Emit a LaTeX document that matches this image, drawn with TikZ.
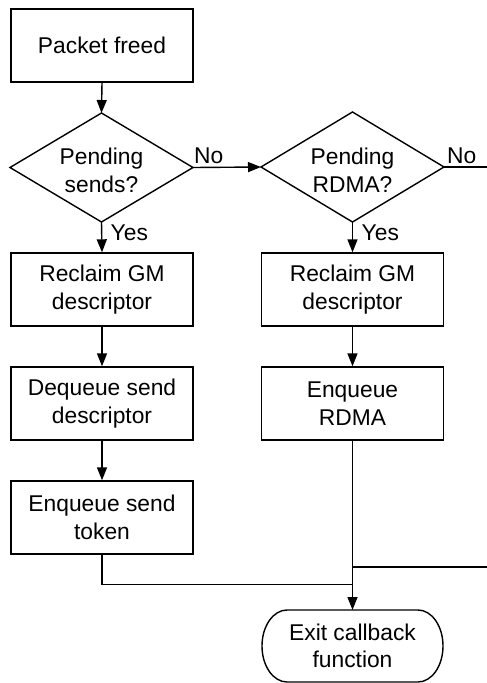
\documentclass[tikz,border=0pt]{standalone}
\usepackage{fontspec}
\setmainfont{Liberation Sans}
\usetikzlibrary{arrows.meta}

\tikzset{
  flowline/.style={line width=1.4pt, draw=black},
  flowarrow/.style={flowline, -{Triangle[length=13pt,width=10pt]}},
  procbox/.style={draw=black, line width=1.4pt, fill=white, rectangle,
    minimum width=182pt, minimum height=73pt, inner sep=0pt, align=center},
  % a decision is a plain frame whose edge midpoints carry the diamond
  decision/.style={rectangle, minimum width=183pt, minimum height=109pt,
    inner sep=0pt, outer sep=0pt, align=center},
  decisiontext/.style={inner sep=0pt, align=center},
  termbox/.style={rectangle, minimum width=181pt, minimum height=72pt,
    inner sep=0pt, outer sep=0pt, align=center},
  branchlabel/.style={inner sep=0pt}
}

\begin{document}
\begin{tikzpicture}[x=1pt,y=-1pt,
  every node/.append style={font=\fontsize{22.8}{27.5}\selectfont}]
  \clip (0,0) rectangle (487,683);
  \useasboundingbox (0,0) rectangle (487,683);

  % left column
  \node[procbox] (start) at (102,45.5) {Packet freed};
  \node[decision] (sends) at (101.5,167.5) {};
  \node[decisiontext] (sendsText) at ([yshift=-3pt]sends.center) {Pending\\sends?};
  \node[procbox] (reclaimA) at (102,289.5) {Reclaim GM\\descriptor};
  \node[procbox] (dequeue) at (102,403.5) {Dequeue send\\descriptor};
  \node[procbox] (token) at (102,517.5) {Enqueue send\\token};

  % right column
  \node[decision, minimum height=110pt] (rdma) at (352.5,167) {};
  \node[decisiontext] (rdmaText) at ([yshift=-3pt]rdma.center) {Pending\\RDMA?};
  \node[procbox] (reclaimB) at (352.5,289.5) {Reclaim GM\\descriptor};
  \node[procbox] (enqrdma) at (352.5,403.5) {Enqueue\\RDMA};

  % diamonds
  \draw[flowline, line join=miter]
    (sends.north) -- (sends.east) -- (sends.south) -- (sends.west) -- cycle;
  \draw[flowline, line join=miter]
    (rdma.north) -- (rdma.east) -- (rdma.south) -- (rdma.west) -- cycle;

  % terminator with flattened rounded ends
  \node[termbox] (exit) at (352.5,646) {Exit callback\\function};
  \draw[flowline]
    ([xshift=25pt]exit.north west) -- ([xshift=-25pt]exit.north east)
    arc[start angle=90, end angle=-90, x radius=25pt, y radius=36pt]
    -- ([xshift=25pt]exit.south west)
    arc[start angle=270, end angle=90, x radius=25pt, y radius=36pt]
    -- cycle;

  % merge points above the exit
  \coordinate (mergeL) at (352.5,584.5);
  \coordinate (mergeR) at (352.5,567);

  % connectors
  \draw[flowarrow] (start.south) -- (sends.north);
  \draw[flowarrow] (sends.east) -- (rdma.west);
  \draw[flowarrow] (sends.south) -- (reclaimA.north);
  \draw[flowarrow] (reclaimA) -- (dequeue);
  \draw[flowarrow] (dequeue) -- (token);
  \draw[flowarrow] (rdma.south) -- (reclaimB.north);
  \draw[flowarrow] (reclaimB) -- (enqrdma);
  \draw[flowarrow] (enqrdma.south) -- (exit.north);
  \draw[flowline] (token.south) |- (mergeL);
  \draw[flowline] (rdma.east) -- (520,167) |- (mergeR);

  % branch labels
  \node[branchlabel, anchor=base west] (noA) at ([xshift=1pt,yshift=4pt]sends.east) {No};
  \node[branchlabel, anchor=base west] (noB) at ([xshift=3pt,yshift=4pt]rdma.east) {No};
  \node[branchlabel, anchor=base west] (yesA) at ([xshift=9pt,yshift=-18pt]sends.south) {Yes};
  \node[branchlabel, anchor=base west] (yesB) at ([xshift=9pt,yshift=-18pt]rdma.south) {Yes};
\end{tikzpicture}
\end{document}
